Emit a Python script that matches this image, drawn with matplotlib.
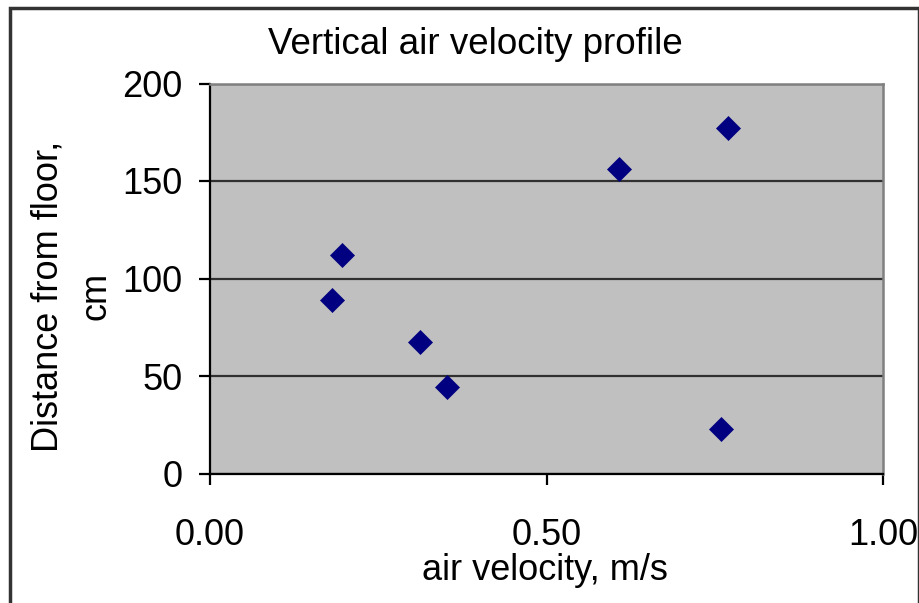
import matplotlib
matplotlib.use("Agg")
import matplotlib.pyplot as plt
from matplotlib.patches import Rectangle

plt.rcParams['font.family'] = ['Liberation Sans', 'DejaVu Sans']

# Measured air velocity (m/s) and height above the floor (cm)
velocity = [0.196, 0.181, 0.312, 0.352, 0.608, 0.769, 0.759]
height = [112, 89, 67.5, 44.5, 156, 177, 23]

x_ticks = [0.0, 0.5, 1.0]
x_tick_labels = ["0.00", "0.50", "1.00"]
y_ticks = [0, 50, 100, 150, 200]
y_tick_labels = ["0", "50", "100", "150", "200"]

title = "Vertical air velocity profile"
x_label = "air velocity, m/s"
y_label = "Distance from floor,\ncm"

W, H = 920, 603
fig = plt.figure(figsize=(W / 100, H / 100), dpi=100)
fig.patch.set_facecolor("white")

# chart frame
fig.patches.append(Rectangle((10 / W, -0.05), 909 / W, 1.05 - 8 / H,
                             transform=fig.transFigure, fill=False,
                             edgecolor="#333333", linewidth=2.5))

left, right, top, bottom = 210, 883, 83.5, 473.5
ax = fig.add_axes([left / W, 1 - bottom / H, (right - left) / W, (bottom - top) / H])
ax.set_facecolor("#C0C0C0")

ax.set_xlim(0, 1)
ax.set_ylim(0, 200)
ax.set_xticks(x_ticks)
ax.set_xticklabels(x_tick_labels)
ax.set_yticks(y_ticks)
ax.set_yticklabels(y_tick_labels)

ax.yaxis.grid(True, color="#303030", linewidth=1.6)
ax.set_axisbelow(True)

for s in ("left", "bottom"):
    ax.spines[s].set_color("black")
    ax.spines[s].set_linewidth(1.6)
for s in ("top", "right"):
    ax.spines[s].set_color("#808080")
    ax.spines[s].set_linewidth(1.8)

ax.tick_params(axis="both", direction="out", length=8, width=1.6,
               color="black", labelsize=26, labelcolor="black")
ax.tick_params(axis="x", pad=24)
ax.tick_params(axis="y", pad=12)
for lbl in ax.get_xticklabels() + ax.get_yticklabels():
    lbl.set_clip_on(False)

ax.plot(velocity, height, linestyle="none", marker="D", markersize=11.8,
        color="#000080", markeredgecolor="#000080", markeredgewidth=0.5,
        clip_on=False, zorder=3)

fig.text(475 / W, 1 - 44 / H, title, ha="center", va="center", fontsize=26.5)
fig.text(545 / W, 1 - 570 / H, x_label, ha="center", va="center", fontsize=26)
fig.text(72 / W, 1 - 296 / H, y_label, ha="center", va="center", fontsize=26,
         rotation=90, multialignment="center", linespacing=1.45)

fig.savefig("out.png", dpi=100)
